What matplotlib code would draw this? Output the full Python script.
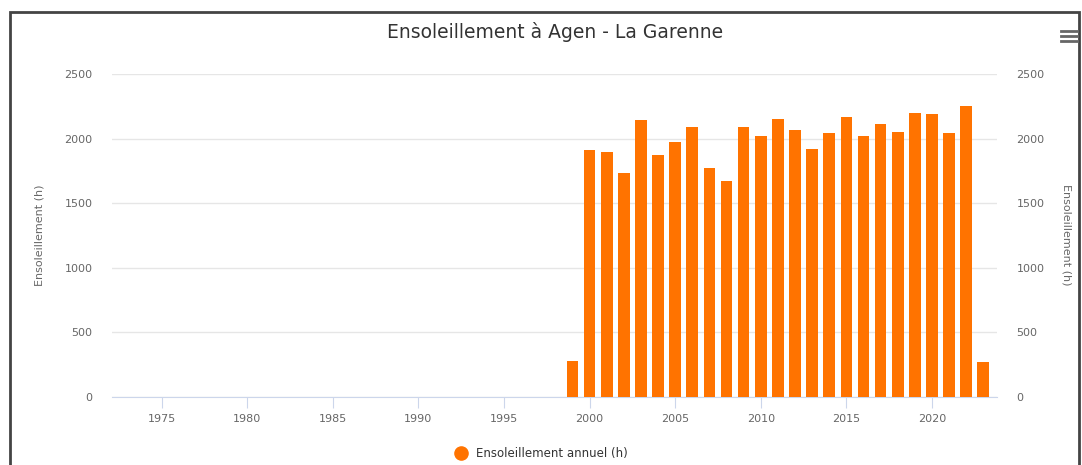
import matplotlib.pyplot as plt
from matplotlib.patches import Rectangle

years = list(range(1999, 2024))
sunshine = [280, 1912, 1900, 1731, 2144, 1873, 1976, 2087, 1770, 1674,
            2087, 2020, 2149, 2067, 1922, 2041, 2165, 2020, 2113, 2049,
            2201, 2190, 2041, 2255, 273]
xticks = [1975, 1980, 1985, 1990, 1995, 2000, 2005, 2010, 2015, 2020]
yticks = [0, 500, 1000, 1500, 2000, 2500]

W, H = 1082, 465
fig = plt.figure(figsize=(W / 100, H / 100), dpi=100)
ax = fig.add_axes([112 / W, 1 - 397 / H, (997 - 112) / W, (397 - 74) / H])

ax.bar(years, sunshine, width=0.68, color="#ff7300", zorder=3)
ax.set_xlim(1972.1, 2023.8)
ax.set_ylim(0, 2500)

ax.set_yticks(yticks)
ax.grid(axis="y", color="#e6e6e6", lw=1, zorder=0)
ax.set_xticks(xticks)
for s in ("top", "left", "right"):
    ax.spines[s].set_visible(False)
ax.spines["bottom"].set_color("#ccd6eb")
ax.tick_params(axis="x", colors="#ccd6eb", length=8, labelcolor="#666666", labelsize=8, pad=4)
ax.tick_params(axis="y", length=0, labelcolor="#666666", labelsize=8, pad=14)

ax2 = ax.twinx()
ax2.set_ylim(0, 2500)
ax2.set_yticks(yticks)
for s in ax2.spines.values():
    s.set_visible(False)
ax2.tick_params(axis="y", length=0, labelcolor="#666666", labelsize=8, pad=14)

fig.text(40 / W, 1 - 235 / H, "Ensoleillement (h)", rotation=90, ha="center", va="center",
         fontsize=8, color="#666666")
fig.text(1066 / W, 1 - 235 / H, "Ensoleillement (h)", rotation=270, ha="center", va="center",
         fontsize=8, color="#666666")

fig.text(555 / W, 1 - 32 / H, "Ensoleillement à Agen - La Garenne", ha="center", va="center",
         fontsize=13.5, color="#333333")

# legend
ax.scatter([461 / W], [1 - 453 / H], s=90, color="#ff7300", transform=fig.transFigure,
           clip_on=False, zorder=5)
fig.text(476 / W, 1 - 453 / H, "Ensoleillement annuel (h)", ha="left", va="center",
         fontsize=8.5, color="#333333")

# menu icon
for dy in (-5, 0, 5):
    fig.lines.append(plt.Line2D([1061 / W, 1077 / W], [1 - (36 + dy) / H] * 2,
                                transform=fig.transFigure, color="#666666", lw=2))

# outer frame
fig.patches.append(Rectangle((10 / W, -0.05), (1079 - 10) / W, 1 - 12 / H + 0.05,
                             transform=fig.transFigure, fill=False, ec="#444444", lw=2))

fig.savefig("out.png", dpi=100)
